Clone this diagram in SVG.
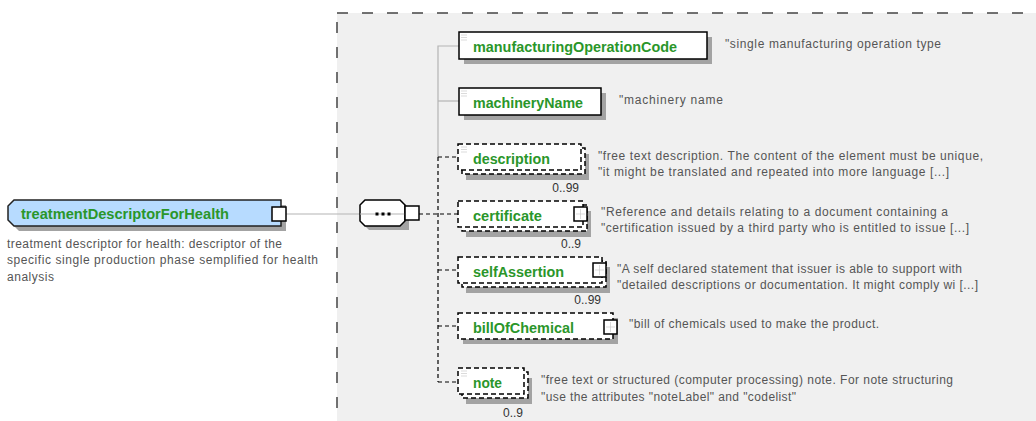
<svg xmlns="http://www.w3.org/2000/svg" width="1036" height="421" viewBox="0 0 1036 421">
<style>
.bg{fill:#ffffff}
.area{fill:#f0f0f0;stroke:#444;stroke-width:1.5;stroke-dasharray:11 14}
.sh{fill:#a3a3a3}
.box{fill:#ffffff;stroke:#000;stroke-width:1.5}
.dbox{fill:#ffffff;stroke:#000;stroke-width:1.5;stroke-dasharray:5 3}
.name{font-family:"Liberation Sans",Arial,sans-serif;font-weight:bold;font-size:14px;fill:#2a962a}
.ann{font-family:"Liberation Sans",Arial,sans-serif;font-size:12px;fill:#555555}
.mult{font-family:"Liberation Sans",Arial,sans-serif;font-size:12px;fill:#333333}
.gl{stroke:#b4b4b4;stroke-width:1.2;fill:none}
.dl{stroke:#000;stroke-width:1.2;stroke-dasharray:4 3;fill:none}
.ico{stroke:#cccccc;stroke-width:0.7}
.sq{fill:#fff;stroke:#000;stroke-width:1.5}
</style>
<rect class="bg" x="0" y="0" width="1036" height="421"/>
<rect class="area" x="337" y="13" width="760" height="450"/>

<g id="connectors">
  <line class="gl" x1="286" y1="214" x2="360" y2="214"/>
  <polyline class="gl" points="459,46 438,46 438,157"/>
  <line class="gl" x1="438" y1="101" x2="459" y2="101"/>
  <polyline class="dl" points="438,157 438,382"/>
  <line class="dl" x1="419" y1="214" x2="458" y2="214"/>
  <line class="dl" x1="438" y1="157" x2="458" y2="157"/>
  <line class="dl" x1="438" y1="270" x2="458" y2="270"/>
  <line class="dl" x1="438" y1="326" x2="458" y2="326"/>
  <line class="dl" x1="438" y1="382" x2="458" y2="382"/>
</g>

<g id="treatmentDescriptorForHealth">
  <polygon class="sh" points="19,205 286,205 286,231 19,231 13,225 13,211"/>
  <polygon points="14,200 281,200 281,226 14,226 8,220 8,206" fill="#b7dbff" stroke="#222" stroke-width="1.5"/>
  <rect class="sq" x="272" y="207" width="14" height="14"/>
  <text class="name" x="21" y="219" textLength="208" lengthAdjust="spacingAndGlyphs">treatmentDescriptorForHealth</text>
  <text class="ann" x="7" y="247.5" textLength="275">treatment descriptor for health: descriptor of the</text>
  <text class="ann" x="7" y="264" textLength="311">specific single production phase semplified for health</text>
  <text class="ann" x="7" y="281" textLength="47">analysis</text>
</g>

<g id="sequence">
  <polygon class="sh" points="369,204 405,204 409,208 409,230 369,230 364,225 364,208"/>
  <polygon points="365,200 400,200 405,205 405,221 400,226 365,226 360,221 360,205" fill="#fff" stroke="#000" stroke-width="1.5"/>
  <line class="gl" x1="360" y1="214" x2="405" y2="214"/>
  <rect x="375.5" y="212.5" width="3" height="3" fill="#000"/>
  <rect x="381.5" y="212.5" width="3" height="3" fill="#000"/>
  <rect x="387.5" y="212.5" width="3" height="3" fill="#000"/>
  <rect class="sq" x="405" y="206" width="14" height="14"/>
</g>

<g id="manufacturingOperationCode">
  <rect class="sh" x="464" y="37" width="248" height="27"/>
  <rect class="box" x="459" y="32" width="248" height="27"/>
  <path class="ico" d="M461,35h6M461,37.5h6M461,40h6"/>
  <text class="name" x="473" y="52" textLength="204" lengthAdjust="spacingAndGlyphs">manufacturingOperationCode</text>
  <text class="ann" x="725" y="48" textLength="216">"single manufacturing operation type</text>
</g>

<g id="machineryName">
  <rect class="sh" x="464" y="93" width="142" height="27"/>
  <rect class="box" x="459" y="88" width="142" height="27"/>
  <path class="ico" d="M461,91h6M461,93.5h6M461,96h6"/>
  <text class="name" x="473" y="108" textLength="110" lengthAdjust="spacingAndGlyphs">machineryName</text>
  <text class="ann" x="619" y="104" textLength="104">"machinery name</text>
</g>

<g id="description">
  <rect class="sh" x="466" y="154" width="123" height="26"/>
  <rect class="dbox" x="462" y="148" width="123" height="26"/>
  <rect class="dbox" x="458" y="144" width="123" height="26"/>
  <path class="ico" d="M461,147h6M461,149.5h6M461,152h6"/>
  <text class="name" x="473" y="164" textLength="77" lengthAdjust="spacingAndGlyphs">description</text>
  <text class="mult" x="579" y="191.5" text-anchor="end">0..99</text>
  <text class="ann" x="598" y="160" textLength="385">"free text description. The content of the element must be unique,</text>
  <text class="ann" x="598" y="176" textLength="351">"it might be translated and repeated into more language [...]</text>
</g>

<g id="certificate">
  <rect class="sh" x="466" y="211" width="125" height="26"/>
  <rect class="dbox" x="462" y="205" width="125" height="26"/>
  <rect class="dbox" x="458" y="201" width="125" height="26"/>
  <rect class="sq" x="574" y="207" width="13" height="14"/>
  <path class="ico" d="M580.5,209v10M576,214h9"/>
  <text class="name" x="473" y="220.5" textLength="69" lengthAdjust="spacingAndGlyphs">certificate</text>
  <text class="mult" x="581" y="247.5" text-anchor="end">0..9</text>
  <text class="ann" x="601" y="216" textLength="347">"Reference and details relating to a document containing a</text>
  <text class="ann" x="601" y="232" textLength="368">"certification issued by a third party who is entitled to issue [...]</text>
</g>

<g id="selfAssertion">
  <rect class="sh" x="466" y="267" width="144" height="26"/>
  <rect class="dbox" x="462" y="261" width="144" height="26"/>
  <rect class="dbox" x="458" y="257" width="144" height="26"/>
  <rect class="sq" x="593" y="263" width="13" height="14"/>
  <path class="ico" d="M599.5,265v10M595,270h9"/>
  <text class="name" x="473" y="276.5" textLength="91" lengthAdjust="spacingAndGlyphs">selfAssertion</text>
  <text class="mult" x="601" y="304" text-anchor="end">0..99</text>
  <text class="ann" x="617" y="272.5" textLength="345">"A self declared statement that issuer is able to support with</text>
  <text class="ann" x="617" y="288.5" textLength="361">"detailed descriptions or documentation. It might comply wi [...]</text>
</g>

<g id="billOfChemical">
  <rect class="sh" x="463" y="318" width="155" height="26"/>
  <rect class="dbox" x="458" y="313" width="155" height="26"/>
  <rect class="sq" x="604" y="320" width="13" height="14"/>
  <path class="ico" d="M610.5,322v10M606,327h9"/>
  <text class="name" x="473" y="332.5" textLength="101" lengthAdjust="spacingAndGlyphs">billOfChemical</text>
  <text class="ann" x="629" y="328" textLength="250">"bill of chemicals used to make the product.</text>
</g>

<g id="note">
  <rect class="sh" x="466" y="378" width="66" height="26"/>
  <rect class="dbox" x="462" y="372" width="66" height="26"/>
  <rect class="dbox" x="458" y="368" width="66" height="26"/>
  <path class="ico" d="M461,371h6M461,373.5h6M461,376h6"/>
  <text class="name" x="473" y="388" textLength="29" lengthAdjust="spacingAndGlyphs">note</text>
  <text class="mult" x="523" y="417" text-anchor="end">0..9</text>
  <text class="ann" x="541" y="384" textLength="412">"free text or structured (computer processing) note. For note structuring</text>
  <text class="ann" x="541" y="400.5" textLength="255">"use the attributes "noteLabel" and "codelist"</text>
</g>
</svg>
